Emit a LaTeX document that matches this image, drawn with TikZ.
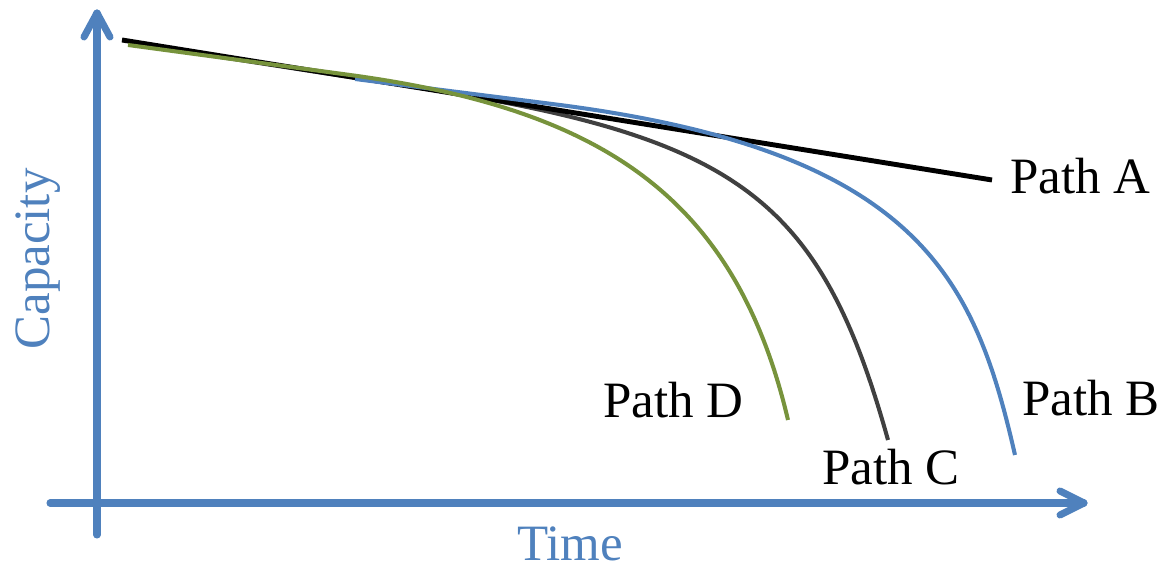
\documentclass[tikz,border=0pt]{standalone}
\usepackage{fontspec}
\setmainfont{Liberation Serif}
\definecolor{axisblue}{HTML}{4F81BD}
\definecolor{pathgreen}{HTML}{77933C}
\definecolor{pathgray}{HTML}{404040}
\begin{document}
\begin{tikzpicture}[
    axis/.style={axisblue, line width=4pt, line cap=round, line join=round},
    curve/.style={line width=2.3pt},
    lbl/.style={anchor=west, inner sep=0pt, font=\fontsize{29}{34}\selectfont}
  ]
        \useasboundingbox (0,0) rectangle (23.26,11.24);
        \draw[axis] (1.94,0.54) -- (1.94,10.98);
        \draw[axis] (1.68,10.5) -- (1.94,10.98) -- (2.2,10.5);
        \draw[axis] (1.0,1.18) -- (21.68,1.18);
        \draw[axis] (21.2,1.42) -- (21.68,1.18) -- (21.2,0.94);
        \draw[curve, pathgray] (2.6,10.38) -- (8.4,9.48) .. controls (14.8,8.49) and (16.42,7.24) .. (17.76,2.44);
        \draw[black, line width=2.8pt] (2.44,10.44) -- (19.84,7.64);
        \draw[curve, axisblue] (7.1,9.66) -- (11.2,9.14) .. controls (18.4,8.2) and (19.5,5.64) .. (20.3,2.14);
        \draw[curve, pathgreen] (2.56,10.34) -- (7.0,9.74) .. controls (12.0,9.06) and (14.7,7.34) .. (15.76,2.84);
        \node[lbl] (labA) at (20.2,7.72) {Path A};
        \node[lbl] (labB) at (20.44,3.28) {Path B};
        \node[lbl] (labC) at (16.44,1.9) {Path C};
        \node[lbl] (labD) at (12.06,3.24) {Path D};
        \node[lbl, anchor=center, axisblue] (time) at (11.4,0.37) {Time};
        \node[lbl, anchor=center, axisblue, rotate=90] (cap) at (0.76,6.06) {Capacity};
    \end{tikzpicture}
\end{document}
